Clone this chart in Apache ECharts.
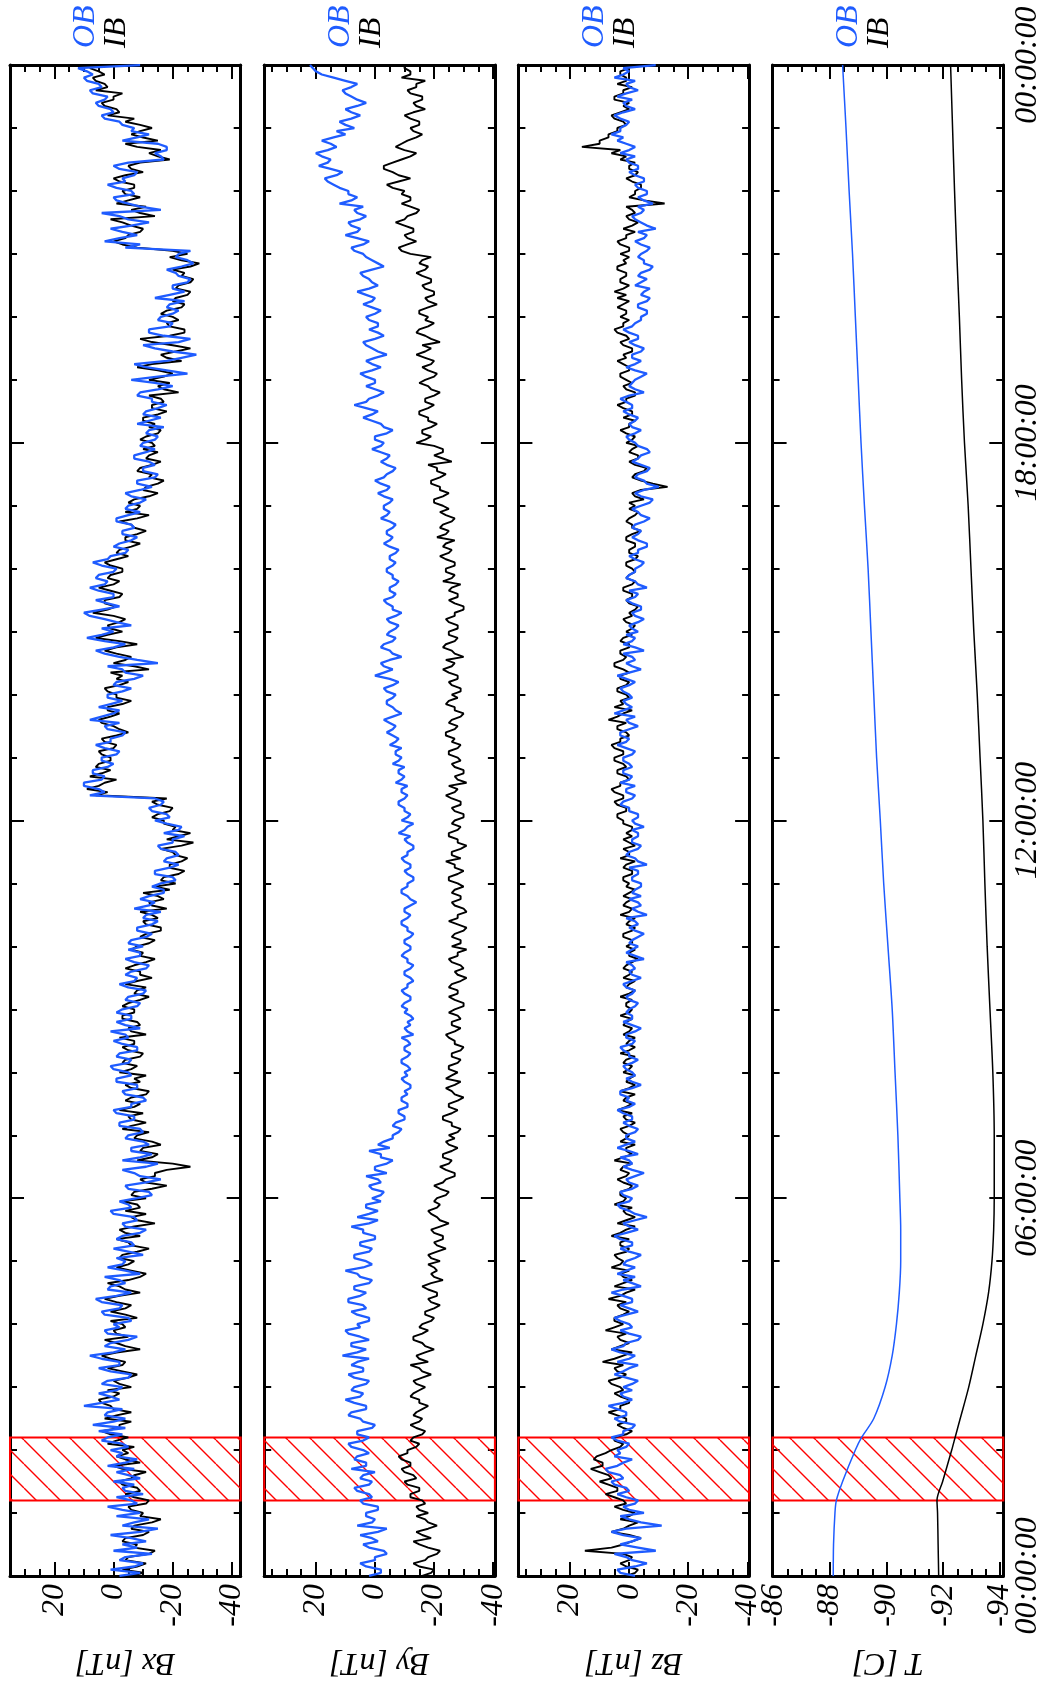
<!DOCTYPE html>
<html><head><meta charset="utf-8">
<script src="https://cdn.jsdelivr.net/npm/echarts@6/dist/echarts.min.js"></script>
<style>html,body{margin:0;padding:0;background:#fff}#chart{width:1052px;height:1685px}</style>
</head><body><div id="chart"></div>
<script>
// ---------------- DATA ----------------
const sampleStepHours = 0.05; // B-field samples every 0.05 h from 00:00 to 24:00 (one row = one hour)
const bxOB = [
-2,-9,1,-7,-10,-2,-4,-13,0,-8,-3,-11,-6,1,-9,-15,-3,-7,-12,-1,
-9,-3,2,-8,-6,-1,-10,-4,-3,-7,0,-9,-5,-1,-7,2,-4,-8,-1,-3,
1,-5,-3,4,2,-3,5,-4,7,0,-4,3,2,-3,10,4,-2,1,5,-1,
-3,4,2,-5,-6,1,5,-2,-2,4,8,0,-4,3,1,-5,-8,2,3,-2,
0,-6,-5,3,4,-2,-3,4,6,-1,-6,2,1,-4,-2,3,-9,-4,2,-3,
-4,-1,-10,-5,0,-7,-6,-1,-3,-9,-11,-4,-3,-8,-7,0,1,-6,-5,-2,
-8,-13,-12,-5,-4,-11,-16,-9,-7,-3,-11,-15,-3,-9,-13,-6,-6,-12,-10,-4,
-5,-10,-9,-2,-2,-7,-7,-1,0,-6,-6,-11,-10,-4,-3,-8,-8,-1,-1,-6,
-5,0,1,-5,-6,-1,-2,-8,-8,-3,0,-5,-4,1,-9,-4,-1,-6,-6,-1,
-3,-8,-9,-4,-5,-10,-11,-5,-2,-7,-8,-4,-6,-11,-12,-7,-4,-9,-9,-5,
-10,-5,-6,-11,-13,-8,-8,-13,-15,-10,-11,-16,-7,-12,-14,-9,-12,-17,-17,-13,
-16,-21,-20,-14,-14,-19,-22,-17,-18,-22,-21,-16,-15,-20,-20,-24,-17,-22,-23,-18,
-14,-19,-18,-13,-12,-16,-17,-14,8,3,5,10,10,4,3,7,7,2,0,4,
4,-1,-2,3,6,1,1,-3,-4,2,3,-2,8,4,0,-2,5,1,-3,2,
2,-3,-6,0,-1,-7,-10,-4,-3,2,-15,-8,-2,3,6,0,-4,3,9,4,
0,4,-6,-1,3,8,10,4,-2,2,6,0,0,5,8,3,2,6,5,0,
-1,4,7,2,1,-4,-5,0,-2,-6,-8,-3,-3,-7,-6,-1,-1,-5,-9,-4,
-5,-9,-11,-6,-4,-9,-13,-8,-8,-14,-15,-10,-10,-14,-12,-7,-7,-11,-14,-9,
-10,-14,-15,-11,-12,-17,-8,-12,-16,-10,-11,-15,-18,-13,-13,-8,-9,-15,-20,-14,
-6,-15,-25,-18,-11,-7,-18,-23,-28,-20,-14,-10,-22,-26,-17,-12,-12,-19,-20,-15,
-16,-20,-22,-18,-19,-24,-14,-19,-24,-20,-20,-25,-26,-22,-21,-18,-23,-27,-25,-21,
-22,-26,-4,-9,3,-2,-8,-3,1,-6,-12,-5,-2,4,-16,-9,-5,-1,0,-7,
-6,-1,2,-4,-3,-7,-8,-2,0,-5,-17,-16,-14,-18,-18,-15,-3,-8,-12,-6,
-7,-3,-2,3,4,0,1,5,6,3,2,7,8,4,5,9,10,7,9,12,
-9];
const bxIB = [
-6,-10,-3,-8,-11,-4,-5,-12,-14,-7,-8,-3,-4,-10,-12,-6,-7,-13,-16,-9,
-10,-6,-5,-11,-12,-7,-4,-9,-8,-3,-2,-6,-7,-11,-3,0,-9,-4,-1,-5,
-3,-7,2,-1,-5,1,4,-2,-2,-6,3,-1,-6,0,1,4,5,0,-2,2,
-6,-2,0,-5,-8,-3,2,-3,-4,1,4,-1,-9,-4,-1,3,-5,-1,0,-4,
-3,1,-8,-4,1,-4,-6,-1,3,-2,-9,-4,-2,2,-5,-9,-11,-6,-1,-5,
-7,-2,-3,-8,-12,-6,-5,-1,-9,-4,-2,-7,-14,-8,-6,-11,-4,-9,-8,-3,
-11,-6,-7,-13,-18,-11,-9,-14,-14,-18,-26,-20,-8,-13,-15,-9,-10,-16,-13,-7,
-8,-12,-3,-6,-11,-6,-5,-10,-2,-7,-9,-4,-6,-11,-12,-6,-4,-9,-7,-11,
-2,-6,-8,-3,-4,-9,-10,-5,-3,-7,-7,-2,-11,-6,-5,-9,-8,-3,-3,-7,
-7,-3,-5,-9,-12,-7,-8,-11,-4,-8,-13,-9,-9,-4,-7,-11,-14,-9,-10,-6,
-8,-12,-14,-9,-11,-16,-16,-11,-10,-15,-13,-9,-18,-13,-12,-17,-15,-10,-19,-14,
-21,-16,-17,-22,-24,-19,-19,-23,-25,-21,-20,-16,-23,-27,-18,-22,-26,-20,-21,-17,
-17,-13,-15,-19,-20,-15,-13,-18,6,2,9,5,3,-1,8,4,1,6,5,1,
1,4,5,0,-1,3,4,-1,-5,-2,0,4,5,1,-2,2,2,-3,-6,-1,
-1,2,3,-2,-5,-1,-3,1,-12,-7,0,-4,-6,-1,3,-1,-8,-2,6,2,
-3,1,2,-2,-4,0,7,2,-1,3,3,-2,-3,1,5,0,-2,2,1,-3,
-3,1,3,-1,-5,-1,-2,-6,-9,-4,-4,-8,-11,-7,-6,-2,-8,-12,-4,-8,
-9,-5,-7,-12,-15,-10,-11,-15,-17,-12,-13,-8,-9,-13,-16,-11,-12,-15,-10,-14,
-13,-9,-11,-15,-16,-12,-14,-10,-10,-15,-18,-13,-13,-17,-16,-12,-22,-17,-15,-19,
-12,-17,-20,-15,-8,-13,-23,-18,-16,-21,-26,-20,-13,-9,-19,-24,-24,-19,-18,-22,
-20,-16,-18,-23,-24,-20,-21,-25,-26,-21,-22,-26,-27,-23,-24,-20,-26,-29,-23,-19,
-25,-20,-8,-3,0,-4,-5,-9,-10,-6,-3,1,-14,-9,-6,-11,-1,-5,-9,-4,
-3,-7,-7,-2,0,-4,-10,-6,-5,-9,-19,-15,-12,-16,-8,-4,-15,-10,-6,-9,
-13,-9,-4,-7,2,-2,-1,3,4,0,0,-3,6,2,3,6,7,3,5,8,
5];
const byOB = [
2,-2,-2,3,5,0,0,-4,-3,2,4,-1,1,5,-1,-4,6,1,0,3,
3,-1,-1,4,5,1,2,6,7,2,1,5,4,0,8,3,3,7,6,2,
4,8,9,4,2,6,6,1,0,4,5,9,8,3,3,7,10,5,4,8,
7,3,2,7,9,4,4,8,6,2,11,6,3,8,8,2,5,9,10,5,
6,2,2,6,8,3,4,9,9,5,3,7,7,2,1,5,6,10,4,1,
3,7,7,2,1,5,5,0,0,4,4,8,2,-1,6,2,-1,3,3,-2,
1,-2,-3,1,2,-2,-1,3,-4,0,0,-4,-6,-2,-2,2,-5,-1,-3,-6,
-6,-8,-9,-6,-7,-10,-10,-8,-8,-11,-11,-9,-9,-11,-10,-12,-12,-10,-9,-11,
-10,-12,-11,-9,-9,-11,-12,-10,-10,-12,-11,-9,-13,-11,-10,-12,-11,-13,-12,-10,
-11,-9,-10,-12,-12,-10,-9,-11,-11,-13,-12,-10,-10,-12,-13,-11,-11,-9,-10,-12,
-12,-10,-10,-12,-13,-11,-11,-9,-9,-11,-12,-10,-10,-12,-14,-12,-11,-9,-9,-11,
-11,-13,-13,-11,-10,-12,-12,-10,-9,-11,-11,-13,-13,-11,-10,-12,-8,-10,-11,-13,
-9,-11,-12,-10,-10,-8,-8,-10,-11,-9,-9,-11,-7,-9,-10,-8,-8,-10,-6,-8,
-9,-7,-7,-9,-5,-7,-8,-6,-4,-6,-7,-5,-3,-6,-9,-7,-6,-4,-4,-6,
-7,-4,-3,-6,-8,-5,0,-3,-6,-3,-2,-5,-9,-6,-5,-2,-3,-6,-7,-4,
-5,-7,-8,-5,-4,-7,-9,-6,-6,-4,-3,-6,-7,-5,-5,-7,-8,-6,-6,-4,
-4,-6,-7,-5,-5,-7,-8,-5,-3,-5,-6,-4,-4,-6,-7,-5,-2,-4,-5,-3,
-3,-5,-6,-3,-1,-4,-5,-2,0,-3,-4,-6,-7,-4,-2,-4,-5,-2,1,-2,
-3,0,0,-4,-6,-3,-2,1,4,1,-1,3,7,3,2,-1,-3,0,3,0,
0,3,5,1,-2,1,3,0,-4,-1,1,3,4,0,-3,-1,2,-1,-1,2,
3,0,-2,1,4,1,0,3,6,2,-1,1,2,4,5,1,-3,-1,1,3,
4,7,8,4,2,6,10,6,5,8,9,5,3,6,7,4,12,8,6,9,
9,12,14,16,17,13,11,15,19,16,15,18,20,16,13,15,18,14,10,13,
7,10,12,8,5,8,10,6,3,6,8,10,11,8,6,10,14,18,20,21,
22];
const byIB = [
-16,-19,-20,-15,-13,-17,-18,-21,-22,-18,-15,-13,-19,-16,-14,-18,-21,-18,-17,-14,
-18,-15,-14,-17,-16,-12,-12,-15,-15,-11,-10,-14,-13,-10,-9,-12,-12,-9,-8,-11,
-11,-14,-15,-12,-13,-16,-17,-14,-12,-15,-16,-13,-14,-16,-18,-15,-15,-12,-13,-15,
-17,-14,-13,-16,-19,-16,-15,-12,-18,-15,-14,-17,-20,-17,-16,-13,-13,-16,-18,-15,
-16,-19,-20,-17,-17,-20,-22,-19,-18,-21,-21,-18,-16,-19,-23,-20,-19,-21,-20,-18,
-22,-19,-18,-21,-24,-21,-20,-23,-23,-20,-19,-22,-25,-22,-21,-19,-18,-21,-22,-20,
-21,-24,-25,-22,-20,-23,-24,-27,-27,-24,-22,-25,-26,-23,-23,-26,-28,-25,-24,-27,
-25,-28,-29,-26,-26,-23,-23,-26,-28,-25,-25,-28,-30,-27,-26,-24,-27,-29,-24,-26,
-28,-25,-25,-28,-29,-26,-26,-29,-30,-27,-27,-25,-24,-27,-29,-26,-26,-29,-28,-25,
-27,-30,-30,-27,-25,-28,-28,-25,-26,-29,-31,-28,-27,-30,-29,-26,-25,-28,-28,-31,
-26,-29,-29,-26,-27,-30,-31,-28,-25,-28,-28,-31,-30,-27,-26,-29,-29,-26,-27,-30,
-28,-25,-25,-28,-30,-27,-27,-24,-29,-26,-26,-29,-31,-28,-28,-25,-25,-28,-29,-26,
-27,-30,-30,-27,-26,-29,-29,-26,-24,-27,-28,-25,-31,-28,-27,-30,-30,-27,-26,-29,
-28,-25,-25,-28,-29,-26,-27,-24,-24,-27,-28,-25,-26,-29,-30,-27,-27,-24,-25,-28,
-26,-29,-29,-26,-25,-28,-28,-25,-23,-26,-27,-24,-30,-27,-26,-23,-24,-27,-28,-25,
-25,-28,-28,-25,-24,-27,-27,-30,-30,-27,-25,-28,-28,-25,-26,-29,-23,-26,-27,-24,
-24,-27,-27,-24,-22,-25,-26,-23,-24,-27,-21,-24,-25,-22,-23,-26,-27,-24,-22,-25,
-23,-20,-20,-23,-25,-22,-22,-19,-19,-22,-24,-21,-21,-18,-26,-23,-20,-23,-23,-20,
-14,-17,-19,-16,-16,-19,-21,-18,-18,-15,-15,-18,-20,-17,-17,-20,-22,-19,-18,-15,
-17,-20,-21,-18,-16,-19,-20,-17,-14,-17,-19,-16,-22,-19,-17,-14,-15,-18,-20,-17,
-18,-15,-15,-18,-21,-18,-17,-20,-20,-17,-16,-19,-19,-16,-14,-17,-18,-15,-16,-19,
-12,-9,-8,-11,-14,-11,-10,-13,-13,-10,-7,-10,-11,-14,-15,-12,-9,-12,-12,-9,
-10,-6,-4,-8,-12,-8,-6,-3,-3,-6,-9,-12,-14,-10,-7,-9,-11,-14,-16,-13,
-12,-15,-15,-12,-10,-13,-17,-14,-13,-16,-16,-12,-11,-14,-14,-17,-9,-12,-12,-10,
-10];
const bzOB = [
-2,3,4,-2,-6,-1,1,5,-9,-3,3,-1,-4,2,6,1,-11,-4,0,3,
-5,0,2,-2,-3,1,4,0,1,5,6,2,3,7,8,4,2,-1,5,3,
4,1,0,4,6,2,2,-1,-2,3,5,1,1,4,7,2,-1,2,3,-1,
2,-1,-3,1,5,2,0,-3,4,0,-2,3,6,2,1,-3,-4,0,3,-1,
0,3,5,1,-3,0,3,-1,-1,2,6,2,-4,-1,2,-2,4,1,-2,2,
1,-2,-4,0,3,-1,-1,3,5,1,-3,0,2,-2,-6,-2,0,3,4,0,
-1,2,3,-1,-3,0,1,-2,-5,-1,2,-1,0,3,-3,0,4,1,-2,1,
1,-2,-3,0,2,-1,-1,2,4,0,-2,1,0,3,3,-1,-4,-1,1,-2,
-1,1,2,-1,-3,0,0,2,3,-1,-2,1,1,-2,-4,-1,2,-1,-1,1,
0,-2,-3,0,1,-1,-2,1,2,-1,-4,-1,0,-2,-1,1,-5,-2,1,-1,
-3,0,-1,-3,-5,-2,0,-3,-2,1,-6,-3,-1,-4,-3,0,-4,-1,-2,-4,
-4,-1,-1,-3,-3,0,-6,-3,-2,1,0,-3,-4,-1,-1,-3,-3,-1,-5,-2,
-1,-3,-3,0,0,3,2,-1,-2,1,1,-2,3,0,-1,2,2,-1,0,2,
2,-1,-2,1,4,1,0,3,3,0,-3,0,1,-2,5,2,-1,1,2,-1,
0,2,3,0,-2,1,4,0,-4,-1,1,-2,-1,2,-5,-2,2,-1,-2,1,
-3,-1,0,-3,-5,-2,-1,-4,-4,-1,1,-2,-3,0,-6,-3,-2,1,0,-2,
-2,-4,-5,-2,0,-3,-3,-6,-6,-3,-1,-3,-4,-1,-2,-5,-7,-4,-3,-1,
-4,-7,-8,-4,-2,-5,-10,-6,-5,-2,-3,-6,-7,-4,-1,-3,-4,-7,-6,-3,
-2,0,1,-2,-4,-1,0,-2,-3,0,2,-1,-1,1,3,0,-5,-2,0,-1,
-2,-4,-6,-2,1,-2,-4,-1,-1,-4,-5,-2,0,-3,-3,0,2,-1,-2,-4,
-4,-6,-6,-3,-3,-6,-7,-4,-5,-7,-2,-4,-6,-3,-4,-7,-8,-5,-5,-3,
-4,-6,-7,-4,-2,-5,-6,-3,-9,-6,-4,-2,-1,-4,-5,-3,-8,-5,-3,-6,
-6,-3,-2,-5,-5,-2,0,-3,-3,0,1,-2,3,0,-2,1,4,2,6,3,
3,1,0,3,5,2,-2,1,2,-1,4,1,-3,0,1,-2,5,2,0,2,
-9];
const bzIB = [
1,-2,-3,1,3,0,-1,2,15,6,2,-1,-4,0,6,2,0,-3,3,0,
-2,2,5,1,2,5,8,4,4,7,10,6,7,10,13,9,9,12,11,8,
6,3,2,5,5,1,-1,2,4,1,1,4,7,3,3,0,0,3,5,2,
3,6,7,3,1,4,5,2,9,5,2,-1,6,3,0,3,4,1,8,5,
2,5,5,2,0,3,4,1,7,3,1,-2,5,2,-1,2,3,0,6,3,
2,4,5,1,0,3,3,0,6,3,1,-2,4,1,-2,1,2,-1,5,2,
1,3,3,0,-1,2,4,1,0,3,2,-1,5,2,-1,1,1,-2,3,1,
0,2,3,0,-2,1,2,-1,4,1,-1,2,1,-2,3,0,-2,1,0,-2,
2,0,-1,2,1,-2,3,0,-2,1,0,-2,2,0,-1,2,1,-1,3,0,
-1,1,1,-1,3,0,-2,1,0,-2,2,0,-1,2,1,-1,-3,0,0,-2,
1,-1,-1,2,2,-1,-2,1,0,-2,3,0,-1,2,1,-1,2,0,-2,1,
0,2,2,-1,-1,2,1,-2,3,0,0,2,-2,0,2,-1,1,-1,-1,2,
2,4,4,1,1,4,5,2,2,5,6,3,3,0,1,4,4,1,2,5,
5,2,2,5,6,3,3,0,1,4,4,1,7,4,2,-1,5,2,3,0,
1,4,4,1,0,3,3,0,2,5,5,2,1,3,3,0,0,3,2,-1,
1,-1,-2,1,2,-1,0,-2,-3,0,1,-1,-1,2,2,-1,-2,1,0,-2,
-1,1,1,-2,-3,0,0,-2,-2,1,1,-1,-4,-1,-1,1,0,-2,-3,0,
-2,0,-5,-2,-1,-4,-13,-8,-4,-1,-2,-5,-6,-2,0,-3,-3,0,-1,-3,
1,-1,-2,1,3,0,0,-2,2,-1,-1,2,4,1,1,-2,-2,1,2,-1,
1,3,3,0,0,2,4,1,2,-1,-1,2,3,0,1,4,5,2,2,0,
3,1,1,4,2,0,4,1,5,2,0,3,3,1,1,4,4,1,2,0,
3,0,0,3,4,1,1,-2,2,-1,-3,0,1,-2,-1,1,-12,-5,0,-2,
-2,-4,-4,-1,1,-2,-3,0,0,-2,3,1,6,3,16,10,10,7,7,4,
4,1,2,5,6,3,0,2,0,5,5,2,2,-1,4,1,1,3,3,0,
2];
// Temperature, read at these hours
const tempHours = [0,0.5,1,1.2,1.5,2,2.2,2.5,3,3.5,4,4.5,5,5.5,6,7,8,9,10,11,12,13,14,15,16,17,18,19,20,21,22,23,24];
const tempOB = [-88.12,-88.13,-88.18,-88.23,-88.45,-88.9,-89.12,-89.55,-89.95,-90.2,-90.35,-90.45,-90.5,-90.5,-90.47,-90.4,-90.3,-90.2,-90.05,-89.9,-89.78,-89.65,-89.55,-89.45,-89.35,-89.22,-89.1,-89.0,-88.9,-88.8,-88.68,-88.57,-88.45];
const tempIB = [-91.84,-91.82,-91.8,-91.78,-91.98,-92.3,-92.42,-92.6,-92.9,-93.15,-93.4,-93.6,-93.72,-93.78,-93.8,-93.8,-93.75,-93.65,-93.55,-93.47,-93.4,-93.3,-93.2,-93.08,-92.98,-92.88,-92.75,-92.65,-92.57,-92.48,-92.4,-92.33,-92.26];
// Hatched interval (hours)
const hatchInterval = [1.2, 2.2];
// Tick values
const timeMajorTicks = [0, 6, 12, 18, 24];
const timeMinorTicks = [1,2,3,4,5,7,8,9,10,11,13,14,15,16,17,19,20,21,22,23];
const bMajorTicks = [20, 0, -20, -40];
const bMinorTicks = [35,30,25,15,10,5,-5,-10,-15,-25,-30,-35];
const tMajorTicks = [-86, -88, -90, -92, -94];
const tMinorTicks = [-86.5,-87,-87.5,-88.5,-89,-89.5,-90.5,-91,-91.5,-92.5,-93,-93.5];
const panelTitles = ['Bx [nT]', 'By [nT]', 'Bz [nT]', 'T [C]'];
const legendNames = ['OB', 'IB'];

// ---------------- LAYOUT / STYLE ----------------
const BLUE = '#1f5cff';
const FONT = '"Liberation Serif", "DejaVu Serif", serif';
const FS = 32;
const gridTop = 65, gridH = 1511, gridW = 230.7, gridL0 = 10, gridStep = 254.2;
const ranges = [[-43, 35], [-40.6, 37.5], [-40.6, 37.5], [-94.12, -85.98]];
const timeRange = [-0.001, 24.001];

function hatchPattern() {
  const S = 24;
  const c = document.createElement('canvas');
  c.width = S; c.height = S;
  const g = c.getContext('2d');
  g.strokeStyle = '#ff0000'; g.lineWidth = 1.4;
  g.beginPath();
  for (let k = -1; k <= 1; k++) { g.moveTo(k * S, 0); g.lineTo(k * S + S, S); }
  g.stroke();
  return c;
}
const pattern = { image: hatchPattern(), repeat: 'repeat' };

const toPairs = (vals, step) => vals.map((v, k) => [v, +(k * step).toFixed(3)]);
const toPairsT = (vals, hrs) => vals.map((v, k) => [v, hrs[k]]);
const fmtTime = v => String(Math.round(v) % 24).padStart(2, '0') + ':00:00';

const grids = [], xAxes = [], yAxes = [], series = [], graphics = [];
const lineAxis = { show: true, onZero: false, lineStyle: { color: '#000', width: 3 } };
const noLine = { show: false, onZero: false };
const labelStyle = { fontSize: FS, fontFamily: FONT, fontStyle: 'italic', color: '#000' };

const seriesData = [[bxIB, bxOB], [byIB, byOB], [bzIB, bzOB]];

for (let i = 0; i < 4; i++) {
  const left = gridL0 + gridStep * i;
  grids.push({ left: left, top: gridTop, width: gridW, height: gridH, containLabel: false });
  const [mn, mx] = ranges[i];
  const majors = i === 3 ? tMajorTicks : bMajorTicks;
  const minors = (i === 3 ? tMinorTicks : bMinorTicks).filter(v => v > mn && v < mx);
  const xBase = { type: 'value', gridIndex: i, min: mn, max: mx, inverse: true, splitLine: { show: false } };
  xAxes.push(Object.assign({}, xBase, {
    position: 'bottom', axisLine: lineAxis,
    axisTick: { show: true, inside: true, length: 14, customValues: majors, lineStyle: { color: '#000', width: 2 } },
    axisLabel: Object.assign({ show: true, rotate: 90, margin: 8, lineHeight: 22, customValues: majors, showMinLabel: true, showMaxLabel: true }, labelStyle),
    name: panelTitles[i], nameLocation: 'middle', nameGap: 70, nameRotate: 180,
    nameTextStyle: labelStyle
  }));
  xAxes.push(Object.assign({}, xBase, {
    position: 'bottom', axisLine: noLine,
    axisTick: { show: true, inside: true, length: 7, customValues: minors, lineStyle: { color: '#000', width: 2 } },
    axisLabel: { show: false }
  }));
  xAxes.push(Object.assign({}, xBase, {
    position: 'top', axisLine: lineAxis,
    axisTick: { show: true, inside: true, length: 14, customValues: majors, lineStyle: { color: '#000', width: 2 } },
    axisLabel: { show: false }
  }));
  xAxes.push(Object.assign({}, xBase, {
    position: 'top', axisLine: noLine,
    axisTick: { show: true, inside: true, length: 7, customValues: minors, lineStyle: { color: '#000', width: 2 } },
    axisLabel: { show: false }
  }));
  const yBase = { type: 'value', gridIndex: i, min: timeRange[0], max: timeRange[1], splitLine: { show: false } };
  yAxes.push(Object.assign({}, yBase, {
    position: 'right', axisLine: lineAxis,
    axisTick: { show: true, inside: true, length: 14, customValues: timeMajorTicks.slice(1, -1), lineStyle: { color: '#000', width: 2 } },
    axisLabel: i === 3 ? Object.assign({ show: true, rotate: 90, margin: 13, lineHeight: 22, customValues: timeMajorTicks, formatter: fmtTime,
      alignMinLabel: 'center', alignMaxLabel: 'center', showMinLabel: true, showMaxLabel: true }, labelStyle) : { show: false }
  }));
  yAxes.push(Object.assign({}, yBase, {
    position: 'right', axisLine: noLine,
    axisTick: { show: true, inside: true, length: 7, customValues: timeMinorTicks, lineStyle: { color: '#000', width: 2 } },
    axisLabel: { show: false }
  }));
  yAxes.push(Object.assign({}, yBase, {
    position: 'left', axisLine: lineAxis,
    axisTick: { show: true, inside: true, length: 14, customValues: timeMajorTicks.slice(1, -1), lineStyle: { color: '#000', width: 2 } },
    axisLabel: { show: false }
  }));
  yAxes.push(Object.assign({}, yBase, {
    position: 'left', axisLine: noLine,
    axisTick: { show: true, inside: true, length: 7, customValues: timeMinorTicks, lineStyle: { color: '#000', width: 2 } },
    axisLabel: { show: false }
  }));

  const xi = 4 * i, yi = 4 * i;
  if (i < 3) {
    const [ib, ob] = seriesData[i];
    series.push({ type: 'line', name: 'IB', xAxisIndex: xi, yAxisIndex: yi, data: toPairs(ib, sampleStepHours),
      showSymbol: false, lineStyle: { color: '#000', width: 1.9 }, itemStyle: { color: '#000' }, z: 2, silent: true });
    series.push({ type: 'line', name: 'OB', xAxisIndex: xi, yAxisIndex: yi, data: toPairs(ob, sampleStepHours),
      showSymbol: false, lineStyle: { color: BLUE, width: 2.3 }, itemStyle: { color: BLUE }, z: 3, silent: true });
  } else {
    series.push({ type: 'line', name: 'IB', xAxisIndex: xi, yAxisIndex: yi, data: toPairsT(tempIB, tempHours), smooth: 0.3,
      showSymbol: false, lineStyle: { color: '#000', width: 1.5 }, itemStyle: { color: '#000' }, z: 2, silent: true });
    series.push({ type: 'line', name: 'OB', xAxisIndex: xi, yAxisIndex: yi, data: toPairsT(tempOB, tempHours), smooth: 0.3,
      showSymbol: false, lineStyle: { color: BLUE, width: 1.5 }, itemStyle: { color: BLUE }, z: 3, silent: true });
  }
  series.push({ type: 'line', name: 'hatch', xAxisIndex: xi, yAxisIndex: yi, data: [], z: 5, silent: true,
    markArea: { silent: true, itemStyle: { color: pattern, borderColor: '#ff0000', borderWidth: 2 },
      data: [[{ yAxis: hatchInterval[0] }, { yAxis: hatchInterval[1] }]] } });

  graphics.push({ type: 'text', x: left + 76, y: 48, rotation: Math.PI / 2,
    style: { text: legendNames[0], fill: BLUE, font: 'italic ' + FS + 'px ' + FONT, align: 'left', verticalAlign: 'middle', textAlign: 'left', textVerticalAlign: 'middle' } });
  graphics.push({ type: 'text', x: left + 107, y: 48, rotation: Math.PI / 2,
    style: { text: legendNames[1], fill: '#000', font: 'italic ' + FS + 'px ' + FONT, align: 'left', verticalAlign: 'middle', textAlign: 'left', textVerticalAlign: 'middle' } });
}

const chart = echarts.init(document.getElementById('chart'), null, { renderer: 'canvas' });
chart.setOption({
  animation: false,
  backgroundColor: '#fff',
  grid: grids, xAxis: xAxes, yAxis: yAxes, series: series, graphic: graphics
});
</script></body></html>
